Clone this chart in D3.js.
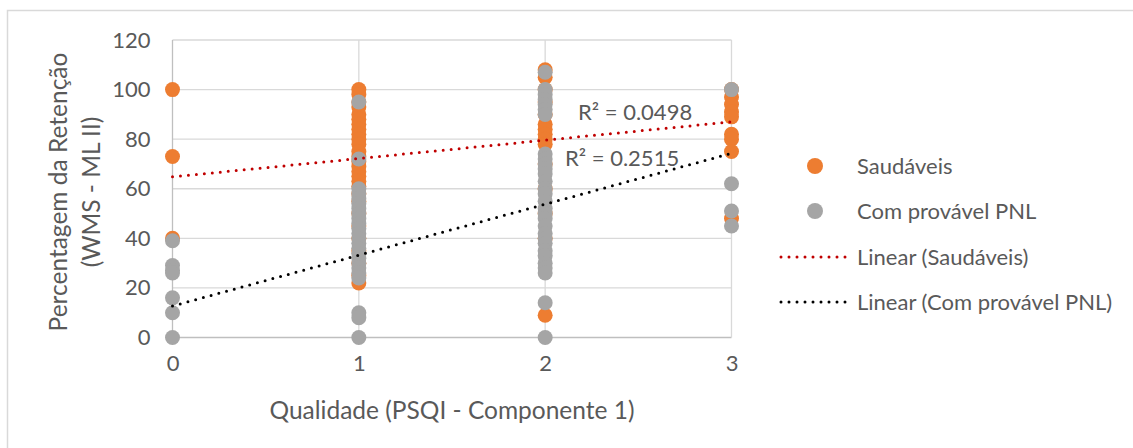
<!DOCTYPE html>
<html>
<head>
<meta charset="utf-8">
<script src="https://cdn.jsdelivr.net/npm/d3@7/dist/d3.min.js"></script>
<style>
  html, body { margin: 0; padding: 0; background: #fff; }
  svg { display: block; font-family: Lato, "Open Sans", sans-serif; }
</style>
</head>
<body>
<svg id="chart" width="1133" height="448"></svg>
<script>
// x positions (PSQI component 1 score) and axis ticks
const xTicks = [0, 1, 2, 3];
const yTicks = [0, 20, 40, 60, 80, 100, 120];

// Retention percentages, one list per x value (0..3)
const saudaveisByX = [
  [100, 73, 40],
  [100, 98, 95, 93, 90, 88, 86, 84, 82, 80, 78, 75, 73, 71, 69, 67, 65, 63, 61, 58, 55, 50, 45, 40, 35, 30, 25, 22],
  [108, 105, 100, 95, 90, 86, 84, 82, 80, 78, 70, 60, 50, 40, 9],
  [100, 97, 94, 91, 89, 82, 80, 75, 48]
];
const pnlByX = [
  [39, 29, 27, 26, 16, 10, 0],
  [95, 72, 60, 58, 56, 54, 52, 50, 48, 46, 44, 42, 40, 38, 36, 34, 32, 30, 28, 26, 24, 10, 8, 0],
  [107, 100, 98, 96, 94, 92, 90, 74, 72, 70, 68, 66, 63, 60, 58, 55, 52, 50, 48, 45, 42, 40, 38, 35, 33, 30, 28, 26, 14, 0],
  [100, 62, 51, 45]
];

// Linear trend lines: fitted values at x = 0 and x = 3
const trendX = [0, 3];
const trendSaudaveis = [64.8, 87.0];
const trendPnl = [12.7, 74.3];
const r2Labels = ["R² = 0.0498", "R² = 0.2515"];

const seriesNames = ["Saudáveis", "Com provável PNL"];
const trendNames = ["Linear (Saudáveis)", "Linear (Com provável PNL)"];

const colors = { saud: "#ED7D31", pnl: "#A5A5A5", trendSaud: "#C00000", trendPnl: "#000000", text: "#595959", grid: "#D9D9D9", axis: "#BFBFBF" };

const svg = d3.select("#chart");

// outer chart frame
svg.append("rect")
  .attr("x", 7.5).attr("y", 10.5)
  .attr("width", 1140).attr("height", 460)
  .attr("fill", "#fff")
  .attr("stroke", colors.grid).attr("stroke-width", 1.5);

const x = d3.scaleLinear().domain([0, 3]).range([172.5, 731.5]);
const y = d3.scaleLinear().domain([0, 120]).range([337.5, 40]);

// gridlines
const grid = svg.append("g");
grid.selectAll(".hg").data(yTicks).join("line")
  .attr("x1", x(0)).attr("x2", x(3))
  .attr("y1", d => y(d)).attr("y2", d => y(d))
  .attr("stroke", d => d === 0 ? colors.axis : colors.grid).attr("stroke-width", 1.3);
grid.selectAll(".vg").data(xTicks).join("line")
  .attr("y1", y(0)).attr("y2", y(120))
  .attr("x1", d => x(d)).attr("x2", d => x(d))
  .attr("stroke", d => d === 0 ? colors.axis : colors.grid).attr("stroke-width", 1.3);

// axes (labels only)
const yAxis = svg.append("g").attr("transform", `translate(${x(0)},0)`)
  .call(d3.axisLeft(y).tickValues(yTicks).tickSize(0).tickPadding(22).tickFormat(d3.format("d")));
const xAxis = svg.append("g").attr("transform", `translate(0,${y(0)})`)
  .call(d3.axisBottom(x).tickValues(xTicks).tickSize(0).tickPadding(18).tickFormat(d3.format("d")));
[yAxis, xAxis].forEach(a => {
  a.select(".domain").remove();
  a.selectAll("text").attr("fill", colors.text).style("font-size", "22px").style("font-family", "Lato");
});

// points
const flatten = (byX) => byX.flatMap((vals, i) => vals.map(v => ({ x: xTicks[i], y: v })));
const r = 7.5;
svg.append("g").selectAll("circle").data(flatten(saudaveisByX)).join("circle")
  .attr("cx", d => x(d.x)).attr("cy", d => y(d.y)).attr("r", r).attr("fill", colors.saud);
svg.append("g").selectAll("circle").data(flatten(pnlByX)).join("circle")
  .attr("cx", d => x(d.x)).attr("cy", d => y(d.y)).attr("r", r).attr("fill", colors.pnl);

// trend lines
const line = d3.line().x(d => x(d[0])).y(d => y(d[1]));
const dotted = (sel, color) => sel
  .attr("fill", "none").attr("stroke", color).attr("stroke-width", 3)
  .attr("stroke-linecap", "round").attr("stroke-dasharray", "0 8");
svg.append("path").datum(trendX.map((t, i) => [t, trendSaudaveis[i]])).attr("d", line).call(dotted, colors.trendSaud);
svg.append("path").datum(trendX.map((t, i) => [t, trendPnl[i]])).attr("d", line).call(dotted, colors.trendPnl);

// R² labels
svg.append("text").attr("x", 578).attr("y", 120).attr("fill", colors.text)
  .style("font-size", "22px").text(r2Labels[0]);
svg.append("text").attr("x", 565).attr("y", 166).attr("fill", colors.text)
  .style("font-size", "22px").text(r2Labels[1]);

// axis titles
svg.append("text").attr("x", x(1.5)).attr("y", 419).attr("text-anchor", "middle")
  .attr("fill", colors.text).style("font-size", "24.5px").text("Qualidade (PSQI - Componente 1)");
const yTitle = svg.append("text").attr("transform", "translate(67,192) rotate(-90)")
  .attr("text-anchor", "middle").attr("fill", colors.text).style("font-size", "24.5px");
yTitle.append("tspan").attr("x", 0).attr("y", 0).text("Percentagem da Retenção");
yTitle.append("tspan").attr("x", 0).attr("y", 33).text("(WMS - ML II)");

// legend
const legendY = [166, 211, 257, 302];
const lg = svg.append("g");
lg.append("circle").attr("cx", 815).attr("cy", legendY[0]).attr("r", 8).attr("fill", colors.saud);
lg.append("circle").attr("cx", 815).attr("cy", legendY[1]).attr("r", 8).attr("fill", colors.pnl);
lg.append("line").attr("x1", 781).attr("x2", 849).attr("y1", legendY[2]).attr("y2", legendY[2]).call(dotted, colors.trendSaud);
lg.append("line").attr("x1", 781).attr("x2", 849).attr("y1", legendY[3]).attr("y2", legendY[3]).call(dotted, colors.trendPnl);
const labels = seriesNames.concat(trendNames);
lg.selectAll("text").data(labels).join("text")
  .attr("x", 857).attr("y", (d, i) => legendY[i]).attr("dy", "0.35em")
  .attr("fill", colors.text).style("font-size", "22px").text(d => d);
</script>
</body>
</html>
